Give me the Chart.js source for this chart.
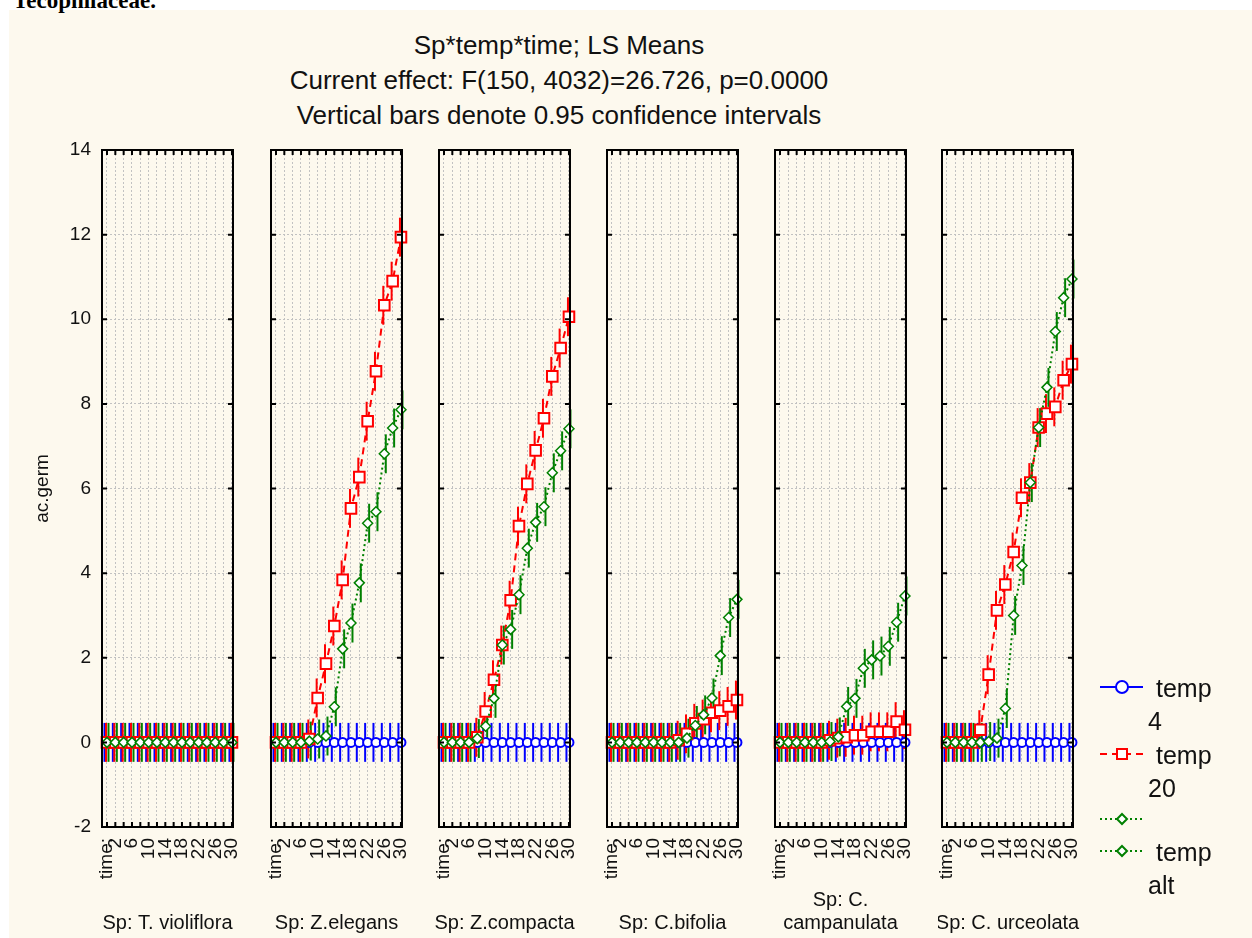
<!DOCTYPE html>
<html lang="en">
<head>
<meta charset="UTF-8">
<title>Sp*temp*time; LS Means</title>
<script src="https://cdn.jsdelivr.net/npm/chart.js"></script>
<style>
    body { margin: 0; width: 1252px; height: 938px; position: relative; overflow: hidden; background: #fff;
           font-family: "Liberation Sans", Arial, sans-serif; }
    #sheet { position: absolute; left: 9px; top: 10px; width: 1243px; height: 928px; background: #fdf9ee; }
    #doc { position: absolute; left: 13px; top: -11px; font: bold 23px/23px "Liberation Serif", serif; color: #000; }
    .ttl { position: absolute; left: 0; width: 1118px; text-align: center; font-size: 26px; line-height: 30px; color: #111; }
    canvas { position: absolute; }
</style>
</head>
<body>
    <div id="sheet"></div>
    <div id="doc">Tecophilaceae.</div>
    <div class="ttl" style="top:30px">Sp*temp*time; LS Means</div>
    <div class="ttl" style="top:65px">Current effect: F(150, 4032)=26.726, p=0.0000</div>
    <div class="ttl" style="top:100px">Vertical bars denote 0.95 confidence intervals</div>

    <script>
        // time points of the x axis and the labels that are printed under them
        const times = [0, 2, 4, 6, 8, 10, 12, 14, 16, 18, 20, 22, 24, 26, 28, 30]
        const timeTicks = ['time:', '2', '', '6', '', '10', '', '14', '', '18', '', '22', '', '26', '', '30']

        const species = ['Sp: T. violiflora', 'Sp: Z.elegans', 'Sp: Z.compacta', 'Sp: C.bifolia', ['Sp: C.', 'campanulata'], 'Sp: C. urceolata']

        // LS means, one row per species
        const temp4 = [
            [0, 0, 0, 0, 0, 0, 0, 0, 0, 0, 0, 0, 0, 0, 0, 0],
            [0, 0, 0, 0, 0, 0, 0, 0, 0, 0, 0, 0, 0, 0, 0, 0],
            [0, 0, 0, 0, 0, 0, 0, 0, 0, 0, 0, 0, 0, 0, 0, 0],
            [0, 0, 0, 0, 0, 0, 0, 0, 0, 0, 0, 0, 0, 0, 0, 0],
            [0, 0, 0, 0, 0, 0, 0, 0, 0, 0, 0, 0, 0, 0, 0, 0],
            [0, 0, 0, 0, 0, 0, 0, 0, 0, 0, 0, 0, 0, 0, 0, 0]
        ]
        const temp20 = [
            [0, 0, 0, 0, 0, 0, 0, 0, 0, 0, 0, 0, 0, 0, 0, 0],
            [0, 0, 0, 0, 0.08, 1.05, 1.86, 2.75, 3.84, 5.53, 6.27, 7.59, 8.77, 10.33, 10.9, 11.94],
            [0, 0, 0, 0, 0.12, 0.73, 1.48, 2.3, 3.36, 5.11, 6.11, 6.9, 7.66, 8.65, 9.32, 10.06],
            [0, 0, 0, 0, 0, 0, 0, 0, 0.05, 0.2, 0.45, 0.55, 0.7, 0.75, 0.85, 1.0],
            [0, 0, 0, 0, 0, 0, 0.05, 0.1, 0.12, 0.17, 0.17, 0.25, 0.25, 0.25, 0.49, 0.3],
            [0, 0, 0, 0, 0.3, 1.6, 3.12, 3.73, 4.5, 5.78, 6.14, 7.44, 7.77, 7.93, 8.56, 8.94]
        ]
        const tempAlt = [
            [0, 0, 0, 0, 0, 0, 0, 0, 0, 0, 0, 0, 0, 0, 0, 0],
            [0, 0, 0, 0, 0.03, 0.08, 0.15, 0.84, 2.21, 2.82, 3.77, 5.18, 5.45, 6.82, 7.43, 7.86],
            [0, 0, 0, 0, 0.09, 0.38, 1.04, 2.3, 2.67, 3.49, 4.59, 5.2, 5.57, 6.37, 6.89, 7.41],
            [0, 0, 0, 0, 0, 0, 0, 0, 0, 0.1, 0.4, 0.65, 1.05, 2.05, 2.95, 3.38],
            [0, 0, 0, 0, 0, 0, 0.02, 0.13, 0.85, 1.04, 1.75, 1.95, 2.04, 2.27, 2.84, 3.46],
            [0, 0, 0, 0, 0, 0.02, 0.1, 0.8, 3.0, 4.18, 6.14, 7.44, 8.39, 9.71, 10.51, 10.95]
        ]
        const ciHalf = 0.46   // half width of the 0.95 confidence bars

        const legendLabels = [['temp', '4'], ['temp', '20'], [], ['temp', 'alt']]

        const BLUE = '#0000ff', RED = '#ff0000', GREEN = '#008000'
        const FONT = '"Liberation Sans", Arial, sans-serif'
        const panelLeft = [102, 271, 439, 607, 775, 942]
        const PANEL_W = 131, TOP = 150, BOTTOM = 827

        function marker(ctx, style, x, y, r, color) {
            ctx.save()
            ctx.fillStyle = '#fff'
            ctx.strokeStyle = color
            ctx.lineWidth = 2
            ctx.setLineDash([])
            ctx.beginPath()
            if (style === 'circle') ctx.arc(x, y, r, 0, Math.PI * 2)
            else if (style === 'rect') ctx.rect(x - r, y - r, 2 * r, 2 * r)
            else { ctx.moveTo(x, y - r); ctx.lineTo(x + r, y); ctx.lineTo(x, y + r); ctx.lineTo(x - r, y); ctx.closePath() }
            ctx.fill()
            ctx.stroke()
            ctx.restore()
        }

        const panelDeco = {
            id: 'panelDeco',
            beforeDatasetsDraw(chart) {
                // confidence bars
                const ctx = chart.ctx, xs = chart.scales.x, ys = chart.scales.y
                for (let i = chart.data.datasets.length - 1; i >= 0; i--) {
                    const ds = chart.data.datasets[i]
                    ctx.save()
                    ctx.strokeStyle = ds.borderColor
                    ctx.lineWidth = 2
                    ds.data.forEach(pt => {
                        const x = xs.getPixelForValue(pt.x) + ds.barShift
                        ctx.beginPath()
                        ctx.moveTo(x, ys.getPixelForValue(pt.y - ciHalf))
                        ctx.lineTo(x, ys.getPixelForValue(pt.y + ciHalf))
                        ctx.stroke()
                    })
                    ctx.restore()
                }
            },
            afterDatasetsDraw(chart) {
                // frame with inward tick marks
                const ctx = chart.ctx, a = chart.chartArea, xs = chart.scales.x, ys = chart.scales.y
                ctx.save()
                ctx.strokeStyle = '#000'
                ctx.lineWidth = 2
                ctx.strokeRect(a.left, a.top, a.right - a.left, a.bottom - a.top)
                ctx.beginPath()
                xs.ticks.forEach(t => {
                    const x = xs.getPixelForValue(t.value)
                    ctx.moveTo(x, a.top); ctx.lineTo(x, a.top + 5)
                    ctx.moveTo(x, a.bottom); ctx.lineTo(x, a.bottom - 5)
                })
                ys.ticks.forEach(t => {
                    const y = ys.getPixelForValue(t.value)
                    ctx.moveTo(a.left, y); ctx.lineTo(a.left + 5, y)
                    ctx.moveTo(a.right, y); ctx.lineTo(a.right - 5, y)
                })
                ctx.stroke()
                ctx.restore()

                // species name under the panel
                const name = [].concat(chart.options.plugins.panelDeco.name)
                ctx.save()
                ctx.fillStyle = '#111'
                ctx.font = '20px ' + FONT
                ctx.textAlign = 'center'
                ctx.textBaseline = 'middle'
                const cx = (a.left + a.right) / 2
                name.forEach((line, i) => ctx.fillText(line, cx, a.bottom + 96 - (name.length - 1 - i) * 23))
                ctx.restore()
            }
        }

        const legendDeco = {
            id: 'legendDeco',
            afterDraw(chart) {
                const ctx = chart.ctx, a = chart.chartArea
                const rows = [
                    { dy: 537, color: BLUE, dash: [], style: 'circle', r: 6 },
                    { dy: 604, color: RED, dash: [7, 5], style: 'rect', r: 5 },
                    { dy: 669, color: GREEN, dash: [2, 3], style: 'diamond', r: 5 },
                    { dy: 701, color: GREEN, dash: [2, 3], style: 'diamond', r: 5 }
                ]
                rows.forEach((row, i) => {
                    const y = a.top + row.dy, x0 = a.right + 27
                    ctx.save()
                    ctx.strokeStyle = row.color
                    ctx.lineWidth = 2
                    ctx.setLineDash(row.dash)
                    ctx.beginPath()
                    ctx.moveTo(x0, y); ctx.lineTo(x0 + 43, y)
                    ctx.stroke()
                    ctx.restore()
                    marker(ctx, row.style, x0 + 22, y, row.r, row.color)
                    const lines = legendLabels[i]
                    ctx.save()
                    ctx.fillStyle = '#111'
                    ctx.font = '25px ' + FONT
                    ctx.textBaseline = 'middle'
                    if (lines[0]) ctx.fillText(lines[0], a.right + 83, y + 3)
                    if (lines[1]) ctx.fillText(lines[1], a.right + 75, y + 36)
                    ctx.restore()
                })
            }
        }

        function points(values) {
            return values.map((v, i) => ({ x: times[i], y: v }))
        }

        species.forEach((name, p) => {
            const first = p === 0, last = p === species.length - 1
            const yW = first ? 74 : 0
            const padL = first ? 0 : 4
            const padR = last ? 1252 - (panelLeft[p] + PANEL_W) : 8
            const canvas = document.createElement('canvas')
            canvas.width = yW + padL + PANEL_W + padR
            canvas.height = 936 - (TOP - 10)
            canvas.style.left = (panelLeft[p] - yW - padL) + 'px'
            canvas.style.top = (TOP - 10) + 'px'
            document.body.appendChild(canvas)

            const gridOpts = { color: '#c2c2c2', lineWidth: 1, drawTicks: false }
            const borderOpts = { display: false, dash: [2, 2] }

            new Chart(canvas, {
                type: 'line',
                data: {
                    datasets: [
                        { label: 'temp alt', data: points(tempAlt[p]), borderColor: GREEN, borderWidth: 2, borderDash: [2, 3],
                          pointStyle: 'rectRot', pointRadius: 5, pointBorderWidth: 1.5, pointBackgroundColor: '#fff', barShift: 1.5 },
                        { label: 'temp 20', data: points(temp20[p]), borderColor: RED, borderWidth: 2, borderDash: [7, 5],
                          pointStyle: 'rect', pointRadius: 7.5, pointBorderWidth: 2, pointBackgroundColor: '#fff', barShift: -1 },
                        { label: 'temp 4', data: points(temp4[p]), borderColor: BLUE, borderWidth: 1.5,
                          pointStyle: 'circle', pointRadius: 4.5, pointBorderWidth: 2, pointBackgroundColor: '#fff', barShift: -2.5 }
                    ].map(d => Object.assign(d, { tension: 0, fill: false, clip: false, pointBorderColor: d.borderColor }))
                },
                options: {
                    responsive: false,
                    animation: false,
                    events: [],
                    layout: { autoPadding: false, padding: { left: padL, right: padR, top: 10, bottom: 0 } },
                    plugins: { legend: { display: false }, tooltip: { enabled: false }, panelDeco: { name: name } },
                    scales: {
                        x: {
                            type: 'linear', min: -1.2, max: 30.25,
                            afterFit: s => { s.height = 936 - BOTTOM; s.paddingLeft = 0; s.paddingRight = 0 },
                            ticks: {
                                stepSize: 2, includeBounds: false, autoSkip: false, minRotation: 90, maxRotation: 90, padding: 11,
                                color: '#111', font: { size: 19, family: FONT },
                                callback: v => timeTicks[times.indexOf(v)] ?? ''
                            },
                            grid: gridOpts,
                            border: borderOpts
                        },
                        y: {
                            min: -2, max: 14,
                            afterFit: s => { s.width = yW; s.paddingTop = 0; s.paddingBottom = 0 },
                            ticks: {
                                display: first, stepSize: 2, padding: 11,
                                color: '#111', font: { size: 19, family: FONT }
                            },
                            grid: gridOpts,
                            border: borderOpts,
                            title: {
                                display: first, text: 'ac.germ', color: '#111',
                                font: { size: 19, family: FONT },
                                padding: { top: 3, bottom: 0 }
                            }
                        }
                    }
                },
                plugins: last ? [panelDeco, legendDeco] : [panelDeco]
            })
        })
    </script>
</body>
</html>
